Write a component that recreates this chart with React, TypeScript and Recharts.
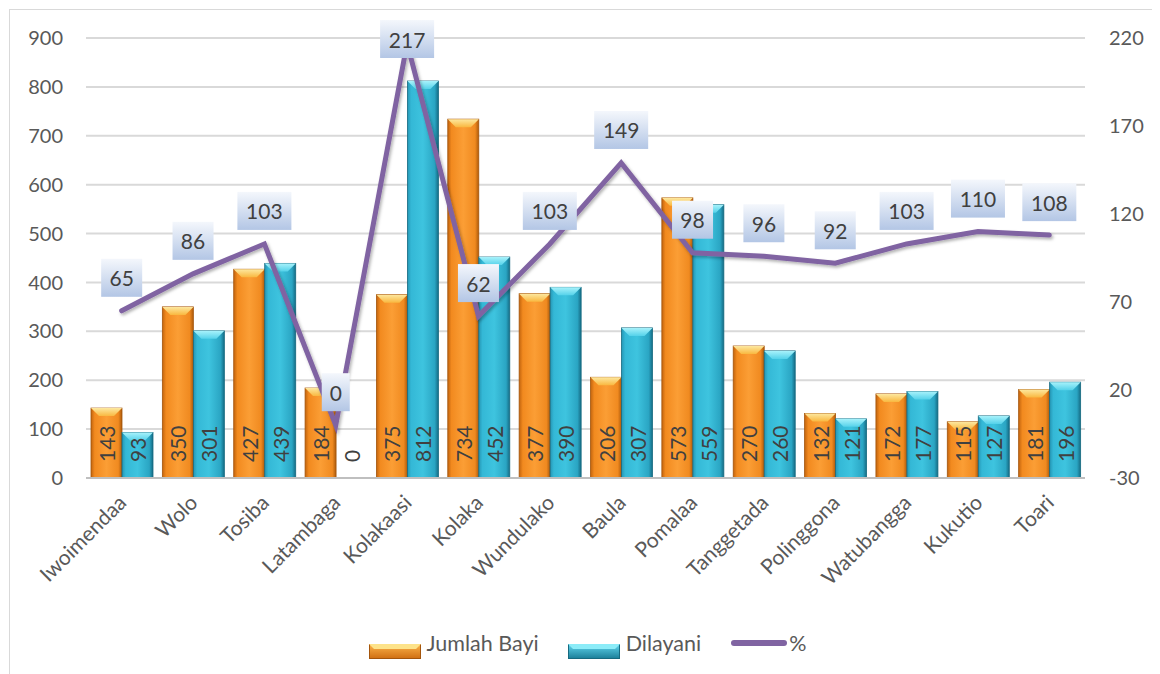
import { ComposedChart, Bar, Line, XAxis, YAxis, CartesianGrid, Legend, LabelList } from 'recharts';

const desa = ['Iwoimendaa', 'Wolo', 'Tosiba', 'Latambaga', 'Kolakaasi', 'Kolaka', 'Wundulako', 'Baula', 'Pomalaa', 'Tanggetada', 'Polinggona', 'Watubangga', 'Kukutio', 'Toari'];
const jumlahBayi = [143, 350, 427, 184, 375, 734, 377, 206, 573, 270, 132, 172, 115, 181];
const dilayani = [93, 301, 439, 0, 812, 452, 390, 307, 559, 260, 121, 177, 127, 196];
const persen = [65, 86, 103, 0, 217, 62, 103, 149, 98, 96, 92, 103, 110, 108];
const leftTicks = [0, 100, 200, 300, 400, 500, 600, 700, 800, 900];
const rightTicks = [-30, 20, 70, 120, 170, 220];

const data = desa.map((name, i) => ({ name, bayi: jumlahBayi[i], dilayani: dilayani[i], pct: persen[i] }));

const FONT = 'Lato, "Open Sans", sans-serif';
const TXT = '#404040';
const AXIS = '#595959';

function BevelBar(props: any) {
  const { x, y, width, height, kind } = props;
  if (!height || height <= 0) return null;
  const b = Math.min(8, height / 2);
  return (
    <g>
      <rect x={x} y={y} width={width} height={height} fill={`url(#body-${kind})`} stroke={kind === 'o' ? '#a4550c' : '#166a80'} strokeWidth={0.8} />
      <polygon
        points={`${x},${y} ${x + width},${y} ${x + width - b},${y + b} ${x + b},${y + b}`}
        fill={`url(#top-${kind})`}
      />
    </g>
  );
}

function BarValue(props: any) {
  const { x, y, width, height, value } = props;
  const cx = x + width / 2;
  const by = y + height - 16;
  return (
    <text
      x={cx}
      y={by}
      transform={`rotate(-90, ${cx}, ${by})`}
      textAnchor="start"
      dominantBaseline="central"
      fontSize={21}
      fontFamily={FONT}
      fill={TXT}
    >
      {value}
    </text>
  );
}

function PctLabel(props: any) {
  const { x, y, value } = props;
  const s = String(value);
  const w = 13 * s.length + 15;
  const h = 38;
  const cy = Math.max(y - 33, 29);
  return (
    <g>
      <rect x={x - w / 2} y={cy - h / 2} width={w} height={h} fill="url(#pctBox)" />
      <text x={x} y={cy} textAnchor="middle" dominantBaseline="central" fontSize={21} fontFamily={FONT} fill={TXT}>
        {s}
      </text>
    </g>
  );
}

function XTick(props: any) {
  const { x, y, payload } = props;
  const ax = x + 6;
  const ay = y + 18;
  return (
    <text
      x={ax}
      y={ay}
      transform={`rotate(-45, ${ax}, ${ay})`}
      textAnchor="end"
      fontSize={21}
      fontFamily={FONT}
      fill={AXIS}
    >
      {payload.value}
    </text>
  );
}

function LegendBox() {
  const item = { display: 'flex', alignItems: 'center', marginRight: 29 } as const;
  const label = { fontSize: 21.5, color: AXIS, fontFamily: FONT, marginLeft: 6 } as const;
  const sw = { position: 'relative', top: 8 } as const;
  return (
    <div style={{ display: 'flex', justifyContent: 'center', alignItems: 'center', height: 28, paddingLeft: 20 }}>
      <div style={item}>
        <svg width={52} height={15} style={sw}>
          <rect x={0.5} y={0.5} width={51} height={14} fill="url(#legO)" stroke="#a4550c" />
          <polygon points="0,0 52,0 47,5 5,5" fill="#fde38a" />
        </svg>
        <span style={label}>Jumlah Bayi</span>
      </div>
      <div style={item}>
        <svg width={52} height={15} style={sw}>
          <rect x={0.5} y={0.5} width={51} height={14} fill="url(#legC)" stroke="#166a80" />
          <polygon points="0,0 52,0 47,5 5,5" fill="#8cecf8" />
        </svg>
        <span style={label}>Dilayani</span>
      </div>
      <div style={{ ...item, marginRight: 0 }}>
        <svg width={58} height={14}>
          <line x1={4} y1={7} x2={54} y2={7} stroke="#8064a2" strokeWidth={6} strokeLinecap="round" />
        </svg>
        <span style={{ ...label, marginLeft: 1 }}>%</span>
      </div>
      <svg width={0} height={0} style={{ position: 'absolute' }}>
        <defs>
          <linearGradient id="legO" x1="0" y1="0" x2="0" y2="1">
            <stop offset="0%" stopColor="#fbb24a" />
            <stop offset="100%" stopColor="#d06f12" />
          </linearGradient>
          <linearGradient id="legC" x1="0" y1="0" x2="0" y2="1">
            <stop offset="0%" stopColor="#5fd4ec" />
            <stop offset="100%" stopColor="#1b7f99" />
          </linearGradient>
        </defs>
      </svg>
    </div>
  );
}

export default function App() {
  return (
    <div style={{ width: 1160, height: 672, marginLeft: 1, marginTop: 1, border: '1px solid #d9d9d9', boxSizing: 'border-box', background: '#fff' }}>
      <ComposedChart
        width={1150}
        height={660}
        data={data}
        margin={{ top: 28, right: 15, bottom: 13, left: 0 }}
        barGap={0}
        barSize={31}
      >
        <defs>
          <linearGradient id="body-o" x1="0" y1="0" x2="1" y2="0">
            <stop offset="0%" stopColor="#c2640e" />
            <stop offset="12%" stopColor="#f28a1f" />
            <stop offset="50%" stopColor="#fb9e35" />
            <stop offset="88%" stopColor="#f08a20" />
            <stop offset="100%" stopColor="#ad5a0b" />
          </linearGradient>
          <linearGradient id="top-o" x1="0" y1="0" x2="0" y2="1">
            <stop offset="0%" stopColor="#fde8a0" />
            <stop offset="100%" stopColor="#f9b840" />
          </linearGradient>
          <linearGradient id="body-c" x1="0" y1="0" x2="1" y2="0">
            <stop offset="0%" stopColor="#2596b4" />
            <stop offset="12%" stopColor="#34b8d6" />
            <stop offset="50%" stopColor="#3ec4df" />
            <stop offset="88%" stopColor="#2aa5c3" />
            <stop offset="100%" stopColor="#156b84" />
          </linearGradient>
          <linearGradient id="top-c" x1="0" y1="0" x2="0" y2="1">
            <stop offset="0%" stopColor="#a8f2fb" />
            <stop offset="100%" stopColor="#55d2ea" />
          </linearGradient>
          <linearGradient id="pctBox" x1="0" y1="0" x2="0" y2="1">
            <stop offset="0%" stopColor="#f4f7fc" />
            <stop offset="100%" stopColor="#b3c6e5" />
          </linearGradient>
          <filter id="lineShadow" x="-10%" y="-10%" width="120%" height="120%">
            <feDropShadow dx={1.5} dy={2} stdDeviation={1.5} floodColor="#000" floodOpacity={0.3} />
          </filter>
        </defs>
        <CartesianGrid vertical={false} stroke="#d9d9d9" strokeWidth={2} yAxisId="left" />
        <XAxis
          dataKey="name"
          interval={0}
          height={151}
          tick={<XTick />}
          tickLine={false}
          axisLine={{ stroke: '#bfbfbf', strokeWidth: 2 }}
        />
        <YAxis
          yAxisId="left"
          domain={[0, 900]}
          ticks={leftTicks}
          width={76}
          axisLine={false}
          tickLine={false}
          tickSize={0}
          tickMargin={23}
          tick={{ fontSize: 20, fill: AXIS, fontFamily: FONT }}
        />
        <YAxis
          yAxisId="right"
          orientation="right"
          domain={[-30, 220]}
          ticks={rightTicks}
          width={60}
          axisLine={false}
          tickLine={false}
          tickSize={0}
          tickMargin={24}
          tick={{ fontSize: 20, fill: AXIS, fontFamily: FONT, textAnchor: 'start' }}
        />
        <Legend verticalAlign="bottom" align="center" content={<LegendBox />} />
        <Bar yAxisId="left" dataKey="bayi" name="Jumlah Bayi" shape={<BevelBar kind="o" />} isAnimationActive={false}>
          <LabelList dataKey="bayi" content={<BarValue />} />
        </Bar>
        <Bar yAxisId="left" dataKey="dilayani" name="Dilayani" shape={<BevelBar kind="c" />} isAnimationActive={false}>
          <LabelList dataKey="dilayani" content={<BarValue />} />
        </Bar>
        <Line
          yAxisId="right"
          dataKey="pct"
          name="%"
          type="linear"
          stroke="#8064a2"
          strokeWidth={5}
          strokeLinecap="round"
          strokeLinejoin="miter"
          dot={false}
          activeDot={false}
          filter="url(#lineShadow)"
          isAnimationActive={false}
        >
          <LabelList dataKey="pct" content={<PctLabel />} />
        </Line>
      </ComposedChart>
    </div>
  );
}
